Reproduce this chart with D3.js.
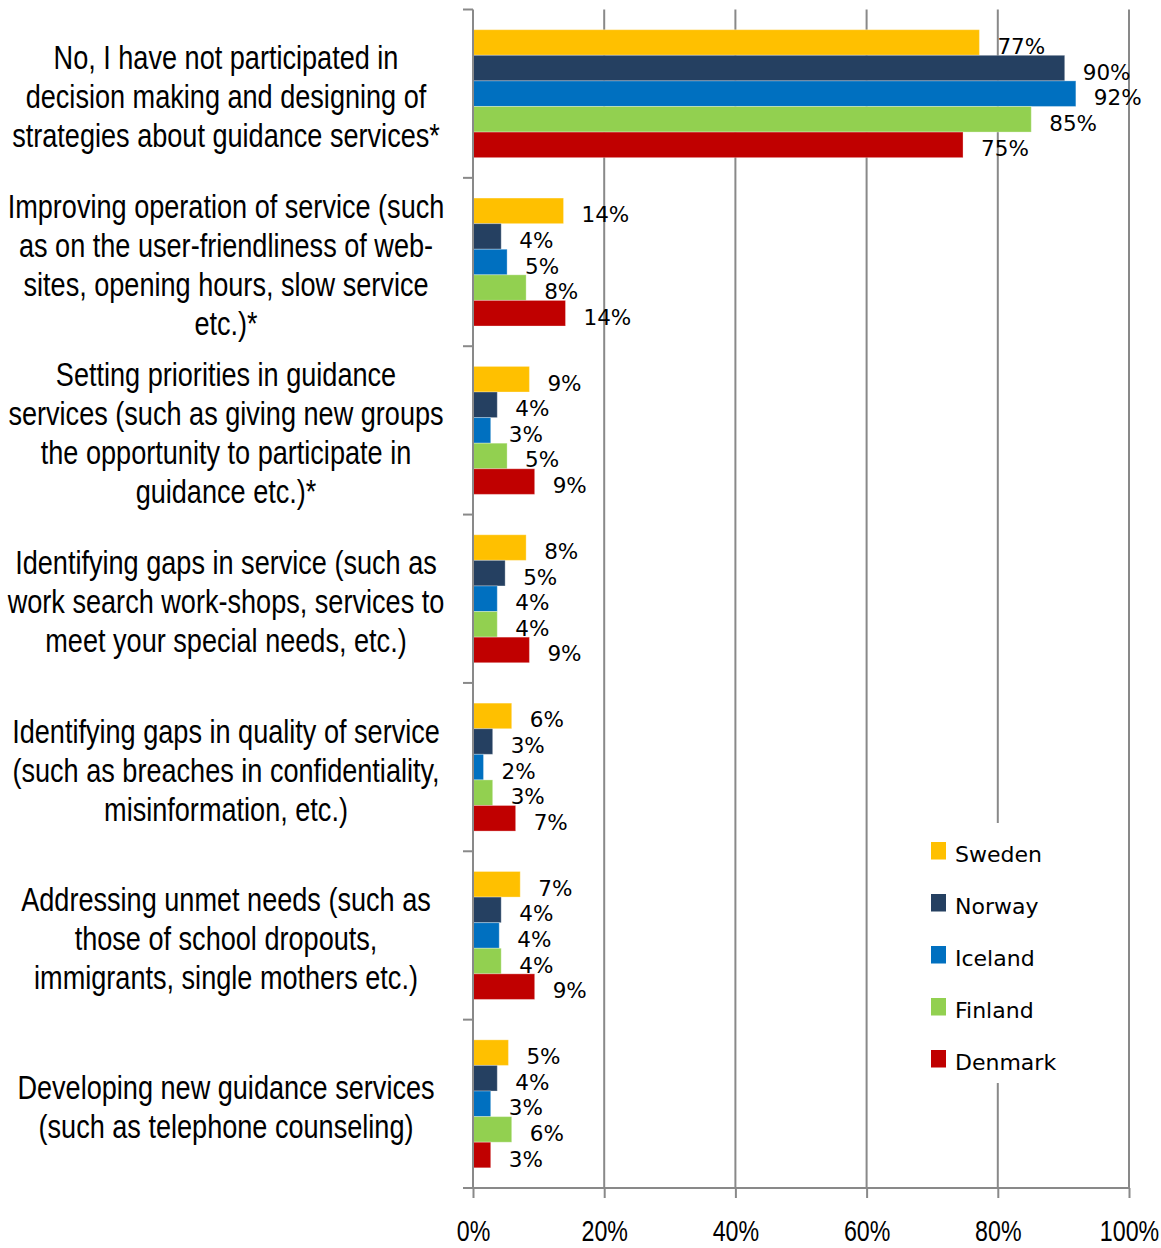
<!DOCTYPE html>
<html>
<head>
<meta charset="utf-8">
<script src="https://cdn.jsdelivr.net/npm/d3@7"></script>
<style>
  html, body { margin: 0; padding: 0; background: #ffffff; }
  svg { display: block; }
</style>
</head>
<body>
<svg id="chart" width="1161" height="1248"></svg>
<script>
// ---------- data ----------
const categories = [
  "No, I have not participated in\ndecision making and designing of\nstrategies about guidance services*",
  "Improving operation of service (such\nas on the user-friendliness of web-\nsites, opening hours, slow service\netc.)*",
  "Setting priorities in guidance\nservices (such as giving new groups\nthe opportunity to participate in\nguidance etc.)*",
  "Identifying gaps in service (such as\nwork search work-shops, services to\nmeet your special needs, etc.)",
  "Identifying gaps in quality of service\n(such as breaches in confidentiality,\nmisinformation, etc.)",
  "Addressing unmet needs (such as\nthose of school dropouts,\nimmigrants, single mothers etc.)",
  "Developing new guidance services\n(such as telephone counseling)"
];
const seriesNames = ["Sweden", "Norway", "Iceland", "Finland", "Denmark"];
const seriesColors = ["#FFC000", "#254061", "#0070C0", "#92D050", "#C00000"];

const sweden  = [77.2, 13.8, 8.6, 8.1, 5.9, 7.2, 5.4];
const norway  = [90.2, 4.3, 3.7, 4.9, 3.0, 4.3, 3.7];
const iceland = [91.9, 5.2, 2.7, 3.7, 1.6, 4.0, 2.7];
const finland = [85.1, 8.1, 5.2, 3.7, 3.0, 4.3, 5.9];
const denmark = [74.7, 14.1, 9.4, 8.6, 6.5, 9.4, 2.7];

const xTickValues = [0, 20, 40, 60, 80, 100];
const xTickLabels = ["0%", "20%", "40%", "60%", "80%", "100%"];

const seriesValues = [sweden, norway, iceland, finland, denmark];

// ---------- layout ----------
const svg = d3.select("#chart");
const plotLeft = 473, plotRight = 1129, plotTop = 9.5, plotBottom = 1188;
const axisColor = "#898989";

const x = d3.scaleLinear().domain([0, 100]).range([plotLeft, plotRight]);
const y = d3.scaleBand().domain(categories).range([plotTop, plotBottom])
  .paddingInner(0.24).paddingOuter(0.12);
const ySub = d3.scaleBand().domain(seriesNames).range([0, y.bandwidth()]);

const rows = [];
categories.forEach((c, ci) => {
  seriesNames.forEach((s, si) => {
    rows.push({ cat: c, series: s, value: seriesValues[si][ci], color: seriesColors[si] });
  });
});

// gridlines
svg.append("g").selectAll("line")
  .data(xTickValues.filter(d => d > 0))
  .join("line")
  .attr("x1", d => x(d)).attr("x2", d => x(d))
  .attr("y1", plotTop).attr("y2", plotBottom)
  .attr("stroke", axisColor).attr("stroke-width", 2);

// bars
svg.append("g").selectAll("rect")
  .data(rows)
  .join("rect")
  .attr("x", x(0))
  .attr("y", d => y(d.cat) + ySub(d.series))
  .attr("width", d => x(d.value) - x(0))
  .attr("height", ySub.bandwidth())
  .attr("fill", d => d.color)
  .attr("stroke", "#ffffff").attr("stroke-opacity", 0.3).attr("stroke-width", 1);

// data labels
svg.append("g").selectAll("text")
  .data(rows)
  .join("text")
  .attr("x", d => x(d.value) + 18)
  .attr("y", d => y(d.cat) + ySub(d.series) + ySub.bandwidth() / 2 + 11.5)
  .attr("font-family", "DejaVu Sans, sans-serif")
  .attr("font-size", 21.5)
  .attr("fill", "#000")
  .text(d => Math.round(d.value) + "%");

// y axis line + ticks at band boundaries
const step = y.step();
const boundaries = categories.map(c => y(c) - step * y.paddingInner() / 2);
boundaries.push(y(categories[categories.length - 1]) + y.bandwidth() + step * y.paddingInner() / 2);
svg.append("line")
  .attr("x1", plotLeft).attr("x2", plotLeft)
  .attr("y1", plotTop).attr("y2", plotBottom)
  .attr("stroke", axisColor).attr("stroke-width", 2);
svg.append("g").selectAll("line")
  .data(boundaries)
  .join("line")
  .attr("x1", plotLeft - 10).attr("x2", plotLeft)
  .attr("y1", d => d).attr("y2", d => d)
  .attr("stroke", axisColor).attr("stroke-width", 2);

// x axis
const xAxis = svg.append("g")
  .attr("transform", `translate(0,${plotBottom})`)
  .call(d3.axisBottom(x).tickValues(xTickValues).tickSize(10).tickSizeOuter(0)
    .tickFormat((d, i) => xTickLabels[i]));
xAxis.select(".domain").remove();
xAxis.selectAll(".tick line").attr("stroke", axisColor).attr("stroke-width", 2);
xAxis.append("line")
  .attr("x1", plotLeft - 10).attr("x2", plotRight)
  .attr("y1", 0).attr("y2", 0)
  .attr("stroke", axisColor).attr("stroke-width", 2);
xAxis.selectAll(".tick text")
  .attr("y", 0).attr("dy", null)
  .attr("transform", "translate(0,53) scale(0.8,1)")
  .attr("font-family", "Liberation Sans, Arial, sans-serif")
  .attr("font-size", 29)
  .attr("fill", "#000");

// category labels
const lineH = 39;
const catG = svg.append("g").selectAll("g")
  .data(categories)
  .join("g")
  .attr("transform", d => `translate(226,${y(d) + y.bandwidth() / 2 + 2.5}) scale(0.797,1)`);
catG.each(function (d) {
  const lines = d.split("\n");
  const g = d3.select(this);
  const n = lines.length;
  g.selectAll("text")
    .data(lines)
    .join("text")
    .attr("x", 0)
    .attr("y", (l, i) => (i - (n - 1) / 2) * lineH + 12)
    .attr("text-anchor", "middle")
    .attr("font-family", "Liberation Sans, Arial, sans-serif")
    .attr("font-size", 34)
    .attr("fill", "#000")
    .text(l => l);
});

// legend
const legend = svg.append("g");
legend.append("rect")
  .attr("x", 915).attr("y", 823).attr("width", 160).attr("height", 260)
  .attr("fill", "#ffffff");
const legItems = legend.selectAll("g.item")
  .data(seriesNames)
  .join("g")
  .attr("class", "item")
  .attr("transform", (d, i) => `translate(931,${842 + i * 52})`);
legItems.append("rect")
  .attr("width", 15).attr("height", 17.5)
  .attr("fill", (d, i) => seriesColors[i]);
legItems.append("text")
  .attr("x", 24).attr("y", 19.5)
  .attr("font-family", "DejaVu Sans, sans-serif")
  .attr("font-size", 22)
  .attr("fill", "#000")
  .text(d => d);
</script>
</body>
</html>
